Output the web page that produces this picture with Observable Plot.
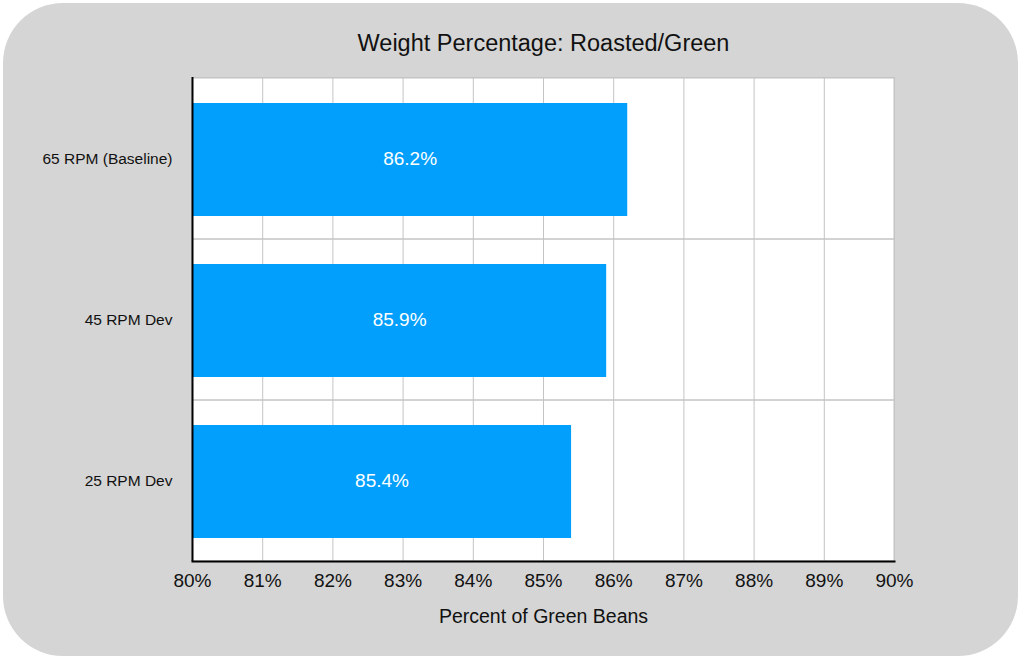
<!DOCTYPE html>
<html>
<head>
<meta charset="utf-8">
<script src="https://cdn.jsdelivr.net/npm/d3@7"></script>
<script src="https://cdn.jsdelivr.net/npm/@observablehq/plot@0.6"></script>
<style>
  html, body { margin: 0; padding: 0; background: #ffffff; width: 1024px; height: 661px; overflow: hidden; }
  #panel { position: absolute; left: 3px; top: 3px; width: 1015px; height: 653px; border-radius: 60px; background: #d5d5d5; }
  #chart { position: absolute; left: 0; top: 0; }
</style>
</head>
<body>
<div id="panel"></div>
<div id="chart"></div>
<script>
const categories = ["65 RPM (Baseline)", "45 RPM Dev", "25 RPM Dev"];
const values = [86.2, 85.9, 85.4];
const xDomain = [80, 90];
const xTicks = [80, 81, 82, 83, 84, 85, 86, 87, 88, 89, 90];
const title = "Weight Percentage: Roasted/Green";
const xLabel = "Percent of Green Beans";

const data = categories.map((c, i) => ({name: c, value: values[i]}));
const font = "'Helvetica Neue', Helvetica, 'Liberation Sans', Arial, sans-serif";
const gridColor = "#c4c4c4";

const chart = Plot.plot({
  width: 1024,
  height: 661,
  marginLeft: 192,
  marginRight: 130,
  marginTop: 77,
  marginBottom: 100,
  style: {fontFamily: font, background: "transparent", color: "#111"},
  x: {domain: xDomain, ticks: xTicks},
  y: {domain: categories, padding: 0},
  marks: [
    Plot.frame({fill: "white", stroke: gridColor}),
    Plot.gridX(xTicks, {stroke: gridColor, strokeOpacity: 1}),
    Plot.barX(categories, {x1: () => xDomain[0], x2: () => xDomain[1], y: d => d, fill: "none", stroke: gridColor}),
    Plot.barX(data, {x1: () => xDomain[0], x2: "value", y: "name", fill: "#039ffc", insetTop: 25, insetBottom: 23}),
    Plot.text(data, {x: d => (xDomain[0] + d.value) / 2, y: "name", text: d => d.value.toFixed(1) + "%", fill: "white", fontSize: 19}),
    Plot.ruleX([xDomain[0]], {stroke: "black", strokeWidth: 2}),
    Plot.frame({anchor: "bottom", stroke: "black", strokeWidth: 2}),
    Plot.axisX(xTicks, {tickSize: 0, tickPadding: 12, tickFormat: d => d + "%", fontSize: 19, label: null}),
    Plot.axisY({tickSize: 0, tickPadding: 20, fontSize: 15.5, label: null}),
    Plot.text([title], {frameAnchor: "top", lineAnchor: "middle", dy: -34, fontSize: 23.5, fill: "#111"}),
    Plot.text([xLabel], {frameAnchor: "bottom", lineAnchor: "middle", dy: 55, fontSize: 19.5, fill: "#111"})
  ]
});
document.getElementById("chart").appendChild(chart);
</script>
</body>
</html>
